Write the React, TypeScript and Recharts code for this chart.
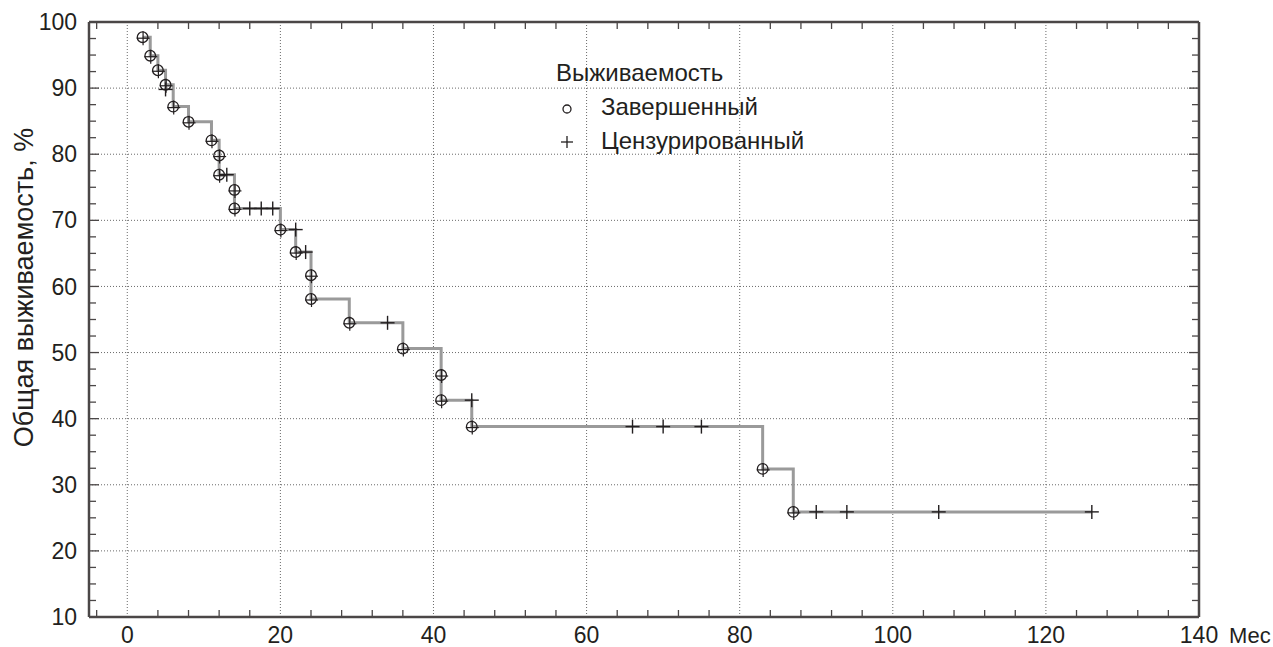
import React from 'react';
import { ComposedChart, Line, Scatter, XAxis, YAxis, CartesianGrid, Legend } from 'recharts';

// Kaplan-Meier curve, months vs. overall survival (%)
const stepTimes = [2, 3, 4, 5, 6, 8, 11, 12, 12, 14, 14, 20, 22, 24, 24, 29, 36, 41, 41, 45, 83, 87, 126];
const stepSurvival = [97.7, 94.9, 92.7, 90.5, 87.2, 84.9, 82.1, 79.8, 76.9, 74.6, 71.8, 68.6, 65.2, 61.7, 58.1, 54.5, 50.6, 46.6, 42.8, 38.8, 32.4, 25.9, 25.9];

// complete observations (deaths)
const eventTimes = [2, 3, 4, 5, 6, 8, 11, 12, 12, 14, 14, 20, 22, 24, 24, 29, 36, 41, 41, 45, 83, 87];
const eventSurvival = [97.7, 94.9, 92.7, 90.5, 87.2, 84.9, 82.1, 79.8, 76.9, 74.6, 71.8, 68.6, 65.2, 61.7, 58.1, 54.5, 50.6, 46.6, 42.8, 38.8, 32.4, 25.9];

// censored observations
const censTimes = [5, 13, 16, 17.5, 19, 22, 23.3, 34, 45, 66, 70, 75, 90, 94, 106, 126];
const censSurvival = [89.8, 76.9, 71.8, 71.8, 71.8, 68.6, 65.2, 54.5, 42.8, 38.8, 38.8, 38.8, 25.9, 25.9, 25.9, 25.9];

const xTicks = [0, 20, 40, 60, 80, 100, 120, 140];
const xMinorTicks = [-4, 4, 8, 12, 16, 24, 28, 32, 36, 44, 48, 52, 56, 64, 68, 72, 76, 84, 88, 92, 96, 104, 108, 112, 116, 124, 128, 132, 136];
const yTicks = [10, 20, 30, 40, 50, 60, 70, 80, 90, 100];
const yMinorTicks = [12.5, 15, 17.5, 22.5, 25, 27.5, 32.5, 35, 37.5, 42.5, 45, 47.5, 52.5, 55, 57.5, 62.5, 65, 67.5, 72.5, 75, 77.5, 82.5, 85, 87.5, 92.5, 95, 97.5];

const legendTitle = 'Выживаемость';
const eventName = 'Завершенный';
const censName = 'Цензурированный';
const yTitle = 'Общая выживаемость, %';
const xUnit = 'Мес';

const FONT = '"Liberation Sans", Arial, Helvetica, sans-serif';
const INK = '#231f20';
const FRAME = '#4b4747';

const stepData = stepTimes.map((t, i) => ({ t, s: stepSurvival[i] }));
const eventData = eventTimes.map((t, i) => ({ t, s: eventSurvival[i] }));
const censData = censTimes.map((t, i) => ({ t, s: censSurvival[i] }));

const noLabel = () => <g />;
const tickStroke = { stroke: FRAME, strokeWidth: 1.3 };

const EventMark = (p: any) => {
  const { cx, cy } = p;
  if (cx == null || cy == null) return <g />;
  return (
    <g stroke={INK} fill="none">
      <line x1={cx - 6} x2={cx + 7} y1={cy + 1} y2={cy + 1} strokeWidth={1.2} />
      <line x1={cx + 0.5} x2={cx + 0.5} y1={cy - 6} y2={cy + 8} strokeWidth={1.2} />
      <circle cx={cx} cy={cy} r={5.3} strokeWidth={1.3} />
    </g>
  );
};

const CensMark = (p: any) => {
  const { cx, cy } = p;
  if (cx == null || cy == null) return <g />;
  return (
    <g stroke={INK} strokeWidth={1.4}>
      <line x1={cx - 7} x2={cx + 7} y1={cy} y2={cy} />
      <line x1={cx} x2={cx} y1={cy - 7} y2={cy + 7} />
    </g>
  );
};

const LegendBox = (props: any) => {
  const items = (props.payload || []).filter((e: any) => e.value === eventName || e.value === censName);
  return (
    <div style={{ fontFamily: FONT, fontSize: 24, color: INK, lineHeight: '34px' }}>
      <div>{legendTitle}</div>
      {items.map((e: any) => (
        <div key={e.value} style={{ display: 'flex', alignItems: 'center' }}>
          <svg width={45} height={34} style={{ display: 'block' }}>
            {e.value === eventName ? (
              <circle cx={11} cy={19} r={4} fill="none" stroke={INK} strokeWidth={1.3} />
            ) : (
              <g stroke={INK} strokeWidth={1.3}>
                <line x1={5} x2={17} y1={18} y2={18} />
                <line x1={11} x2={11} y1={12} y2={24} />
              </g>
            )}
          </svg>
          <span>{e.value}</span>
        </div>
      ))}
    </div>
  );
};

export default function App() {
  return (
    <div style={{ position: 'absolute', left: 0, top: 0, background: '#fff' }}>
      <ComposedChart
        width={1273}
        height={647}
        data={stepData}
        margin={{ top: 22, right: 74, bottom: 0, left: 0 }}
        style={{ fontFamily: FONT }}
      >
        <CartesianGrid stroke="#6a6a6a" strokeDasharray="1 2" strokeWidth={1} />

        {/* inward minor/major ticks and frame (mirrored helper axes) */}
        <XAxis xAxisId="bm" dataKey="t" type="number" domain={[-5, 140]} allowDataOverflow orientation="bottom" mirror
          height={1} ticks={xMinorTicks} interval={0} tickSize={7} tick={noLabel} axisLine={false}
          tickLine={tickStroke} />
        <XAxis xAxisId="tm" dataKey="t" type="number" domain={[-5, 140]} allowDataOverflow orientation="top" mirror
          height={1} ticks={xMinorTicks} interval={0} tickSize={7} tick={noLabel}
          axisLine={{ stroke: FRAME, strokeWidth: 2.5 }} tickLine={tickStroke} />
        <YAxis yAxisId="lM" type="number" domain={[10, 100]} allowDataOverflow orientation="left" mirror
          width={1} ticks={yTicks} interval={0} tickSize={10} tick={noLabel} axisLine={false}
          tickLine={tickStroke} />
        <YAxis yAxisId="lm" type="number" domain={[10, 100]} allowDataOverflow orientation="left" mirror
          width={1} ticks={yMinorTicks} interval={0} tickSize={6} tick={noLabel} axisLine={false}
          tickLine={tickStroke} />
        <YAxis yAxisId="rM" type="number" domain={[10, 100]} allowDataOverflow orientation="right" mirror
          width={1} ticks={yTicks} interval={0} tickSize={10} tick={noLabel}
          axisLine={{ stroke: FRAME, strokeWidth: 2.5 }} tickLine={tickStroke} />
        <YAxis yAxisId="rm" type="number" domain={[10, 100]} allowDataOverflow orientation="right" mirror
          width={1} ticks={yMinorTicks} interval={0} tickSize={6} tick={noLabel} axisLine={false}
          tickLine={tickStroke} />

        <XAxis
          dataKey="t"
          type="number"
          domain={[-5, 140]}
          allowDataOverflow
          ticks={xTicks}
          interval={0}
          height={30}
          tickSize={0}
          tickMargin={10}
          tickLine={false}
          axisLine={{ stroke: FRAME, strokeWidth: 2.5 }}
          tick={{ fill: INK, fontSize: 23, fontFamily: FONT }}
          label={(lp: any) => {
            const vb = lp.viewBox || {};
            return (
              <text x={vb.x + vb.width + 30} y={vb.y + 26} fill={INK} fontSize={22} fontFamily={FONT}>
                {xUnit}
              </text>
            );
          }}
        />
        <YAxis
          dataKey="s"
          type="number"
          domain={[10, 100]}
          allowDataOverflow
          ticks={yTicks}
          interval={0}
          width={89}
          tickSize={0}
          tickMargin={12}
          tickLine={false}
          axisLine={{ stroke: FRAME, strokeWidth: 2.5 }}
          tick={{ fill: INK, fontSize: 23, fontFamily: FONT }}
          label={(lp: any) => {
            const vb = lp.viewBox || {};
            const cx = 33;
            const cy = vb.y + vb.height / 2 - 32;
            return (
              <text x={cx} y={cy} transform={`rotate(-90, ${cx}, ${cy})`} textAnchor="middle"
                fill={INK} fontSize={27} fontFamily={FONT}>
                {yTitle}
              </text>
            );
          }}
        />

        <Line dataKey="s" type="stepAfter" stroke="#9a9a9a" strokeWidth={3}
          dot={false} activeDot={false} legendType="none" isAnimationActive={false} />
        <Scatter name={eventName} data={eventData} dataKey="s" shape={EventMark} isAnimationActive={false} />
        <Scatter name={censName} data={censData} dataKey="s" shape={CensMark} isAnimationActive={false} />

        <Legend
          layout="horizontal"
          verticalAlign="middle"
          align="center"
          content={LegendBox}
          wrapperStyle={{ left: 556, top: 56, width: 320, height: 110 }}
        />
      </ComposedChart>
    </div>
  );
}
